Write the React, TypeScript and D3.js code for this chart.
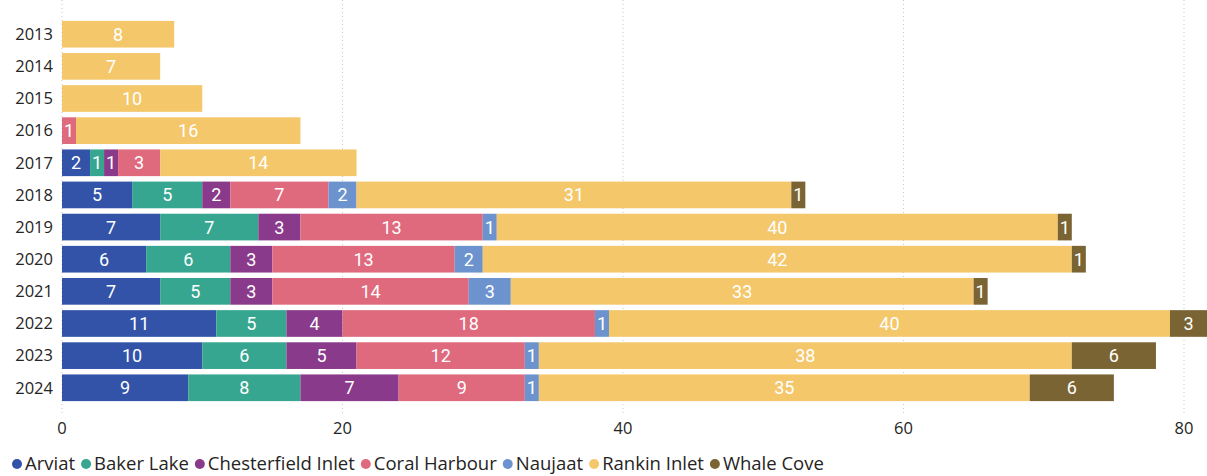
import React, { useEffect, useRef } from "react";
import * as d3 from "d3";

const years = ["2013","2014","2015","2016","2017","2018","2019","2020","2021","2022","2023","2024"];
const seriesNames = ["Arviat","Baker Lake","Chesterfield Inlet","Coral Harbour","Naujaat","Rankin Inlet","Whale Cove"];
const seriesColors = ["#3253A8","#36A690","#893A8A","#DF6A7D","#6C93CD","#F4C76A","#7A6434"];
const arviat =       [0,0,0,0,2,5,7,6,7,11,10,9];
const bakerLake =    [0,0,0,0,1,5,7,6,5,5,6,8];
const chesterfield = [0,0,0,0,1,2,3,3,3,4,5,7];
const coralHarbour = [0,0,0,1,3,7,13,13,14,18,12,9];
const naujaat =      [0,0,0,0,0,2,1,2,3,1,1,1];
const rankinInlet =  [8,7,10,16,14,31,40,42,33,40,38,35];
const whaleCove =    [0,0,0,0,0,1,1,1,1,3,6,6];
const xTicks = [0,20,40,60,80];

const W = 1207, H = 476;

export default function App() {
  const ref = useRef<SVGSVGElement>(null);
  useEffect(() => {
    const svg = d3.select(ref.current);
    svg.selectAll("*").remove();
    const values = [arviat, bakerLake, chesterfield, coralHarbour, naujaat, rankinInlet, whaleCove];
    const rows = years.map((y, i) => {
      const r: any = { year: y };
      seriesNames.forEach((s, j) => (r[s] = values[j][i]));
      return r;
    });
    const stack = d3.stack<any>().keys(seriesNames)(rows);
    const x = d3.scaleLinear().domain([0, 80]).range([62, 1184]);
    const y = d3.scaleBand().domain(years).range([18, 404]).paddingInner(0.17).paddingOuter(0.09);

    const font = "'Segoe UI', 'Open Sans', sans-serif";
    svg.append("g").selectAll("line").data(xTicks).join("line")
      .attr("x1", d => x(d)).attr("x2", d => x(d))
      .attr("y1", 0).attr("y2", 415)
      .attr("stroke", "#c8c8c8").attr("stroke-width", 1).attr("stroke-dasharray", "1,3");
    svg.append("g").selectAll("text").data(xTicks).join("text")
      .attr("x", d => x(d)).attr("y", 428).attr("dy", "0.35em").attr("text-anchor", "middle")
      .attr("font-family", font).attr("font-size", 16.5).attr("fill", "#252423")
      .text(d => String(d));
    svg.append("g").selectAll("text").data(years).join("text")
      .attr("x", 53).attr("y", d => y(d)! + y.bandwidth() / 2).attr("dy", "0.35em")
      .attr("text-anchor", "end")
      .attr("font-family", font).attr("font-size", 16.5).attr("fill", "#252423")
      .text(d => d);

    const bw = y.bandwidth();
    stack.forEach((layer, j) => {
      const g = svg.append("g");
      layer.forEach((seg: any) => {
        const v = seg[1] - seg[0];
        if (v <= 0) return;
        const yr = seg.data.year;
        g.append("rect")
          .attr("x", x(seg[0])).attr("y", y(yr)!)
          .attr("width", x(seg[1]) - x(seg[0])).attr("height", bw)
          .attr("fill", seriesColors[j]);
        const cx = Math.min((x(seg[0]) + x(seg[1])) / 2, (x(seg[0]) + W) / 2);
        g.append("text")
          .attr("x", cx).attr("y", y(yr)! + bw / 2).attr("dy", "0.36em")
          .attr("text-anchor", "middle").attr("fill", "#ffffff")
          .attr("font-family", "Roboto, 'Open Sans', sans-serif").attr("font-size", 18)
          .text(String(v));
      });
    });

    const lg = svg.append("g");
    let lx = 17;
    seriesNames.forEach((s, j) => {
      lg.append("circle").attr("cx", lx).attr("cy", 464).attr("r", 5).attr("fill", seriesColors[j]);
      const t = lg.append("text").attr("x", lx + 8).attr("y", 464).attr("dy", "0.35em")
        .attr("font-family", font).attr("font-size", 18.5).attr("fill", "#252423").text(s);
      const w = (t.node() as SVGTextElement).getComputedTextLength();
      lx = lx + 8 + w + 11;
    });
  }, []);
  return (
    <svg ref={ref} width={W} height={H} style={{ position: "absolute", left: 0, top: 0, background: "#fff" }} />
  );
}
